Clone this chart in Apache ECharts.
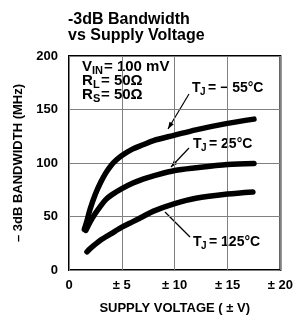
<!DOCTYPE html>
<html><head><meta charset="utf-8">
<script src="https://cdn.jsdelivr.net/npm/echarts@6/dist/echarts.min.js"></script>
<style>html,body{margin:0;padding:0;background:#fff}#c{width:296px;height:320px}</style>
</head><body><div id="c"></div>
<script>
const titleLines = ['-3dB Bandwidth', 'vs Supply Voltage'];
const xTicks = [0, 5, 10, 15, 20];
const yTicks = [0, 50, 100, 150, 200];
const seriesNames = ['TJ = -55°C', 'TJ = 25°C', 'TJ = 125°C'];
const vM55 = [[1.45, 38], [1.7, 46], [2, 57], [2.5, 71], [3, 82], [3.5, 91], [4, 98], [4.5, 103], [5, 107], [6, 113], [7, 117], [8, 121], [10, 126], [12, 131], [15, 137], [17.5, 141]];
const v25 = [[1.6, 37], [2, 45], [2.5, 53], [3, 60], [3.5, 66], [4, 70], [5, 76], [6, 81], [7, 85], [8, 88], [10, 93], [12, 95.5], [15, 98.5], [17.5, 99.5]];
const v125 = [[1.7, 17], [2, 20], [3, 28], [4, 34], [5, 40], [6, 45], [7, 50], [8, 55], [10, 62], [12, 67], [15, 71], [17.4, 73]];

const FONT = '"Liberation Sans", Arial, Helvetica, sans-serif';
const chart = echarts.init(document.getElementById('c'), null, {renderer: 'canvas'});

function txt(x, y, s, size, extra) {
  return Object.assign({type: 'text', x: x, y: y, style: {text: s, font: 'bold ' + size + 'px ' + FONT, fill: '#000', textVerticalAlign: 'middle'}}, extra || {});
}
function arrow(x1, y1, x2, y2, head) {
  const els = [{type: 'line', shape: {x1: x1, y1: y1, x2: x2, y2: y2}, style: {stroke: '#000', lineWidth: 1.2}}];
  if (head) {
    const a = Math.atan2(y2 - y1, x2 - x1), L = 7, W = 2.5;
    const bx = x2 - L * Math.cos(a), by = y2 - L * Math.sin(a);
    const px = -Math.sin(a) * W, py = Math.cos(a) * W;
    els.push({type: 'polygon', shape: {points: [[x2, y2], [bx + px, by + py], [bx - px, by - py]]}, style: {fill: '#000'}});
  }
  return els;
}

const graphics = [
  txt(68, 20, titleLines[0], 16),
  txt(68, 36, titleLines[1], 16),
  // condition box text
  txt(82, 67, 'V', 15), txt(92, 71, 'IN', 11), txt(104, 67, '= 100 mV', 15),
  txt(82, 81, 'R', 15), txt(93, 85, 'L', 11), txt(101, 81, '= 50Ω', 15),
  txt(82, 95, 'R', 15), txt(93, 99, 'S', 11), txt(101, 95, '= 50Ω', 15),
  // curve labels
  txt(192, 88, 'T', 14), txt(200, 92, 'J', 10), txt(208, 88, '= − 55°C', 14),
  txt(193, 144, 'T', 14), txt(201, 148, 'J', 10), txt(209, 144, '= 25°C', 14),
  txt(193, 242, 'T', 14), txt(201, 246, 'J', 10), txt(209, 242, '= 125°C', 14)
].concat(arrow(189, 94, 168, 129, true), arrow(189, 148, 171, 167, true), arrow(190, 237, 165, 212, false));

function mk(name, data) {
  return {name: name, type: 'line', data: data, smooth: 0.3, symbol: 'none', lineStyle: {color: '#000', width: 5.5, cap: 'round'}, z: 3};
}

chart.setOption({
  animation: false,
  backgroundColor: '#fff',
  grid: {left: 69, right: 11, top: 56, bottom: 48, show: true, borderColor: '#000', borderWidth: 2, backgroundColor: 'transparent'},
  xAxis: {
    type: 'value', min: xTicks[0], max: xTicks[xTicks.length - 1], interval: 5,
    name: 'SUPPLY VOLTAGE ( ± V)', nameLocation: 'middle', nameGap: 32,
    nameTextStyle: {fontFamily: FONT, fontWeight: 'bold', fontSize: 13, color: '#000'},
    axisLine: {show: false}, axisTick: {show: false},
    axisLabel: {fontFamily: FONT, fontWeight: 'bold', fontSize: 13, color: '#000', margin: 9,
      formatter: v => v === 0 ? '0' : '± ' + v},
    splitLine: {show: true, lineStyle: {color: '#808080', width: 1}}
  },
  yAxis: {
    type: 'value', min: yTicks[0], max: yTicks[yTicks.length - 1], interval: 50,
    name: '– 3dB BANDWIDTH (MHz)', nameLocation: 'middle', nameGap: 42, nameRotate: 90,
    nameTextStyle: {fontFamily: FONT, fontWeight: 'bold', fontSize: 13, color: '#000'},
    axisLine: {show: false}, axisTick: {show: false},
    axisLabel: {fontFamily: FONT, fontWeight: 'bold', fontSize: 13, color: '#000', margin: 11},
    splitLine: {show: true, lineStyle: {color: '#808080', width: 1}}
  },
  series: [mk(seriesNames[0], vM55), mk(seriesNames[1], v25), mk(seriesNames[2], v125)],
  graphic: graphics
});
</script></body></html>
